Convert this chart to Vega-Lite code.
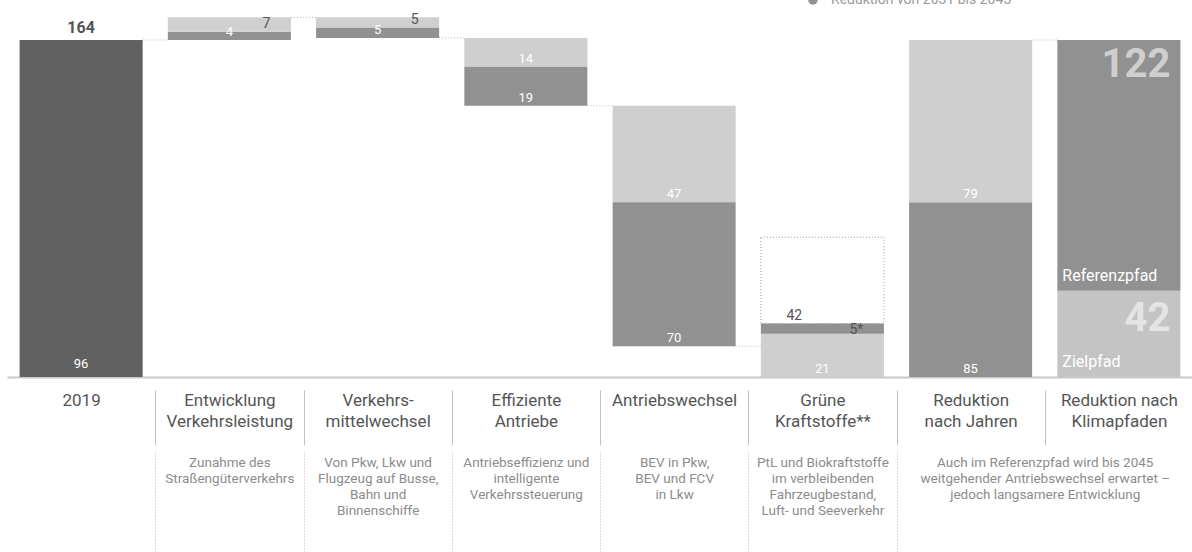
{
  "$schema": "https://vega.github.io/schema/vega-lite/v6.json",
  "width": 1192,
  "height": 377,
  "autosize": {"type": "none"},
  "padding": {"left": 0, "top": 0, "right": 0, "bottom": 175},
  "background": "white",
  "config": {
    "view": {"stroke": null},
    "font": "Roboto",
    "text": {"font": "Roboto"}
  },
  "datasets": {
    "balken": [
      {"kategorie": "2019", "typ": "2019", "unten": 0, "oben": 164, "wert": "164", "hinweis": "96"},
      {"kategorie": "Entwicklung|Verkehrsleistung", "typ": "Reduktion von 2031 bis 2045", "unten": 164, "oben": 168, "wert": "4"},
      {"kategorie": "Entwicklung|Verkehrsleistung", "typ": "Reduktion bis 2030", "unten": 168, "oben": 175, "wert": "7"},
      {"kategorie": "Verkehrs-|mittelwechsel", "typ": "Reduktion bis 2030", "unten": 170, "oben": 175, "wert": "5"},
      {"kategorie": "Verkehrs-|mittelwechsel", "typ": "Reduktion von 2031 bis 2045", "unten": 165, "oben": 170, "wert": "5"},
      {"kategorie": "Effiziente|Antriebe", "typ": "Reduktion bis 2030", "unten": 151, "oben": 165, "wert": "14"},
      {"kategorie": "Effiziente|Antriebe", "typ": "Reduktion von 2031 bis 2045", "unten": 132, "oben": 151, "wert": "19"},
      {"kategorie": "Antriebswechsel", "typ": "Reduktion bis 2030", "unten": 85, "oben": 132, "wert": "47"},
      {"kategorie": "Antriebswechsel", "typ": "Reduktion von 2031 bis 2045", "unten": 15, "oben": 85, "wert": "70"},
      {"kategorie": "Grüne|Kraftstoffe**", "typ": "Reduktion bis 2030", "unten": 0, "oben": 21, "wert": "21"},
      {"kategorie": "Grüne|Kraftstoffe**", "typ": "Reduktion von 2031 bis 2045", "unten": 21, "oben": 26, "wert": "5*"},
      {"kategorie": "Reduktion|nach Jahren", "typ": "Reduktion von 2031 bis 2045", "unten": 0, "oben": 85, "wert": "85"},
      {"kategorie": "Reduktion|nach Jahren", "typ": "Reduktion bis 2030", "unten": 85, "oben": 164, "wert": "79"},
      {"kategorie": "Reduktion nach|Klimapfaden", "typ": "Zielpfad", "unten": 0, "oben": 42, "wert": "42"},
      {"kategorie": "Reduktion nach|Klimapfaden", "typ": "Referenzpfad", "unten": 42, "oben": 164, "wert": "122"}
    ],
    "rahmen": [
      {"kategorie": "Grüne|Kraftstoffe**", "unten": 26, "oben": 68, "wert": "42"}
    ],
    "verbinder": [
      {"von": "2019", "nach": "Entwicklung|Verkehrsleistung", "niveau": 164},
      {"von": "Entwicklung|Verkehrsleistung", "nach": "Verkehrs-|mittelwechsel", "niveau": 175},
      {"von": "Verkehrs-|mittelwechsel", "nach": "Effiziente|Antriebe", "niveau": 165},
      {"von": "Effiziente|Antriebe", "nach": "Antriebswechsel", "niveau": 132},
      {"von": "Antriebswechsel", "nach": "Grüne|Kraftstoffe**", "niveau": 15},
      {"von": "Reduktion|nach Jahren", "nach": "Reduktion nach|Klimapfaden", "niveau": 164}
    ]
  },
  "resolve": {"axis": {"x": "independent"}},
  "layer": [
    {
      "data": {"name": "verbinder"},
      "mark": {"type": "rule", "color": "#b8b8b8", "strokeDash": [1, 2], "strokeWidth": 1},
      "encoding": {
        "x": {
          "field": "von", "type": "nominal", "bandPosition": 1, "axis": null,
          "scale": {
            "domain": ["2019", "Entwicklung|Verkehrsleistung", "Verkehrs-|mittelwechsel", "Effiziente|Antriebe", "Antriebswechsel", "Grüne|Kraftstoffe**", "Reduktion|nach Jahren", "Reduktion nach|Klimapfaden"],
            "range": [7, 1193],
            "paddingInner": 0.17,
            "paddingOuter": 0.085
          }
        },
        "x2": {"field": "nach", "bandPosition": 0},
        "y": {"field": "niveau", "type": "quantitative", "axis": null, "scale": {"domain": [0, 183.45], "nice": false}}
      }
    },
    {
      "data": {"name": "rahmen"},
      "mark": {"type": "bar", "fill": "transparent", "stroke": "#9a9a9a", "strokeDash": [1, 2], "strokeWidth": 1},
      "encoding": {
        "x": {"field": "kategorie", "type": "nominal", "axis": null},
        "y": {"field": "oben", "type": "quantitative", "axis": null},
        "y2": {"field": "unten"}
      }
    },
    {
      "data": {"name": "balken"},
      "mark": {"type": "bar"},
      "encoding": {
        "x": {
          "field": "kategorie", "type": "nominal",
          "axis": {"orient": "bottom", "title": null, "domain": true, "domainColor": "#c8c8c8", "domainWidth": 2, "ticks": false, "labels": false, "grid": false}
        },
        "y": {"field": "oben", "type": "quantitative", "axis": null},
        "y2": {"field": "unten"},
        "color": {
          "field": "typ", "type": "nominal",
          "scale": {
            "domain": ["2019", "Reduktion bis 2030", "Reduktion von 2031 bis 2045", "Zielpfad", "Referenzpfad"],
            "range": ["#616161", "#cfcfcf", "#919191", "#c4c4c4", "#919191"]
          },
          "legend": {
            "orient": "none", "legendX": 806, "legendY": -25, "padding": 0,
            "values": ["Reduktion bis 2030", "Reduktion von 2031 bis 2045"],
            "title": null, "symbolType": "circle", "symbolSize": 90, "symbolStrokeWidth": 0,
            "labelFont": "Roboto", "labelFontSize": 14, "labelColor": "#9a9a9a", "labelOffset": 11, "labelLimit": 400, "rowPadding": 4
          }
        }
      }
    },
    {
      "data": {"name": "balken"},
      "transform": [
        {"filter": "datum.typ !== '2019' && datum.typ !== 'Zielpfad' && datum.typ !== 'Referenzpfad' && datum.wert !== '5*' && !(datum.typ === 'Reduktion bis 2030' && (datum.kategorie === 'Entwicklung|Verkehrsleistung' || datum.kategorie === 'Verkehrs-|mittelwechsel'))"}
      ],
      "mark": {"type": "text", "color": "white", "fontSize": 13, "baseline": "alphabetic", "dy": -4},
      "encoding": {
        "x": {
          "field": "kategorie", "type": "nominal",
          "axis": {
            "orient": "bottom", "offset": 13, "title": null, "domain": false, "grid": false,
            "ticks": true, "tickOffset": -74.125, "tickSize": 55, "tickColor": "#c2c2c2", "tickWidth": 1,
            "tickOpacity": {"condition": {"test": "datum.value === '2019'", "value": 0}, "value": 1},
            "labelExpr": "split(datum.label, '|')", "labelAngle": 0, "labelAlign": "center", "labelOffset": 74.125,
            "labelFont": "Roboto", "labelFontSize": 17, "labelColor": "#555555", "labelLineHeight": 21,
            "labelPadding": -53, "labelBaseline": "top", "labelLimit": 300
          }
        },
        "y": {"field": "unten", "type": "quantitative", "axis": null},
        "text": {"field": "wert"}
      }
    },
    {
      "data": {"name": "balken"},
      "transform": [
        {"filter": "datum.typ === 'Reduktion bis 2030' && (datum.kategorie === 'Entwicklung|Verkehrsleistung' || datum.kategorie === 'Verkehrs-|mittelwechsel')"}
      ],
      "mark": {"type": "text", "color": "#555555", "fontSize": 14, "baseline": "alphabetic", "dx": 37, "dy": -4},
      "encoding": {
        "x": {
          "field": "kategorie", "type": "nominal",
          "axis": {
            "orient": "bottom", "offset": 75, "title": null, "domain": false, "grid": false,
            "ticks": true, "tickOffset": -74.125, "tickSize": 100, "tickColor": "#b5b5b5", "tickWidth": 1, "tickDash": [1, 2],
            "tickOpacity": {"condition": {"test": "datum.value === '2019' || datum.value === 'Reduktion nach|Klimapfaden'", "value": 0}, "value": 1},
            "labelExpr": "split(datum.value === 'Entwicklung|Verkehrsleistung' ? 'Zunahme des|Straßengüterverkehrs' : datum.value === 'Verkehrs-|mittelwechsel' ? 'Von Pkw, Lkw und|Flugzeug auf Busse,|Bahn und|Binnenschiffe' : datum.value === 'Effiziente|Antriebe' ? 'Antriebseffizienz und|intelligente|Verkehrssteuerung' : datum.value === 'Antriebswechsel' ? 'BEV in Pkw,|BEV und FCV|in Lkw' : datum.value === 'Grüne|Kraftstoffe**' ? 'PtL und Biokraftstoffe|im verbleibenden|Fahrzeugbestand,|Luft- und Seeverkehr' : datum.value === 'Reduktion|nach Jahren' ? 'Auch im Referenzpfad wird bis 2045|weitgehender Antriebswechsel erwartet –|jedoch langsamere Entwicklung' : '', '|')",
            "labelAngle": 0, "labelAlign": "center",
            "labelOffset": {"condition": {"test": "datum.value === 'Reduktion|nach Jahren'", "value": 148.25}, "value": 74.125},
            "labelFont": "Roboto", "labelFontSize": 13.5, "labelColor": "#8c8c8c", "labelLineHeight": 16,
            "labelPadding": -97, "labelBaseline": "top", "labelLimit": 400
          }
        },
        "y": {"field": "unten", "type": "quantitative", "axis": null},
        "text": {"field": "wert"}
      }
    },
    {
      "data": {"name": "balken"},
      "transform": [{"filter": "datum.wert === '5*'"}],
      "mark": {"type": "text", "color": "#555555", "fontSize": 14, "baseline": "alphabetic", "dx": 34, "dy": 0},
      "encoding": {
        "x": {"field": "kategorie", "type": "nominal", "axis": null},
        "y": {"field": "unten", "type": "quantitative", "axis": null},
        "text": {"field": "wert"}
      }
    },
    {
      "data": {"name": "rahmen"},
      "mark": {"type": "text", "color": "#555555", "fontSize": 14, "baseline": "alphabetic", "dx": -28, "dy": -4},
      "encoding": {
        "x": {"field": "kategorie", "type": "nominal", "axis": null},
        "y": {"field": "unten", "type": "quantitative", "axis": null},
        "text": {"field": "wert"}
      }
    },
    {
      "data": {"name": "balken"},
      "transform": [{"filter": "datum.typ === '2019'"}],
      "mark": {"type": "text", "color": "#555555", "fontSize": 16, "fontWeight": "bold", "baseline": "alphabetic", "dy": -7},
      "encoding": {
        "x": {"field": "kategorie", "type": "nominal", "axis": null},
        "y": {"field": "oben", "type": "quantitative", "axis": null},
        "text": {"field": "wert"}
      }
    },
    {
      "data": {"name": "balken"},
      "transform": [{"filter": "datum.typ === '2019'"}],
      "mark": {"type": "text", "color": "white", "fontSize": 13, "baseline": "alphabetic", "dy": -9},
      "encoding": {
        "x": {"field": "kategorie", "type": "nominal", "axis": null},
        "y": {"field": "unten", "type": "quantitative", "axis": null},
        "text": {"field": "hinweis"}
      }
    },
    {
      "data": {"name": "balken"},
      "transform": [{"filter": "datum.typ === 'Referenzpfad'"}],
      "mark": {"type": "text", "color": "#cfcfcf", "fontSize": 40, "fontWeight": "bold", "align": "right", "baseline": "top", "dx": -10, "dy": 5},
      "encoding": {
        "x": {"field": "kategorie", "type": "nominal", "bandPosition": 1, "axis": null},
        "y": {"field": "oben", "type": "quantitative", "axis": null},
        "text": {"field": "wert"}
      }
    },
    {
      "data": {"name": "balken"},
      "transform": [{"filter": "datum.typ === 'Zielpfad'"}],
      "mark": {"type": "text", "color": "#e4e4e4", "fontSize": 40, "fontWeight": "bold", "align": "right", "baseline": "top", "dx": -10, "dy": 8},
      "encoding": {
        "x": {"field": "kategorie", "type": "nominal", "bandPosition": 1, "axis": null},
        "y": {"field": "oben", "type": "quantitative", "axis": null},
        "text": {"field": "wert"}
      }
    },
    {
      "data": {"name": "balken"},
      "transform": [{"filter": "datum.typ === 'Zielpfad' || datum.typ === 'Referenzpfad'"}],
      "mark": {"type": "text", "color": "white", "fontSize": 16, "align": "left", "baseline": "alphabetic", "dx": 5, "dy": -10},
      "encoding": {
        "x": {"field": "kategorie", "type": "nominal", "bandPosition": 0, "axis": null},
        "y": {"field": "unten", "type": "quantitative", "axis": null},
        "text": {"field": "typ"}
      }
    }
  ]
}
